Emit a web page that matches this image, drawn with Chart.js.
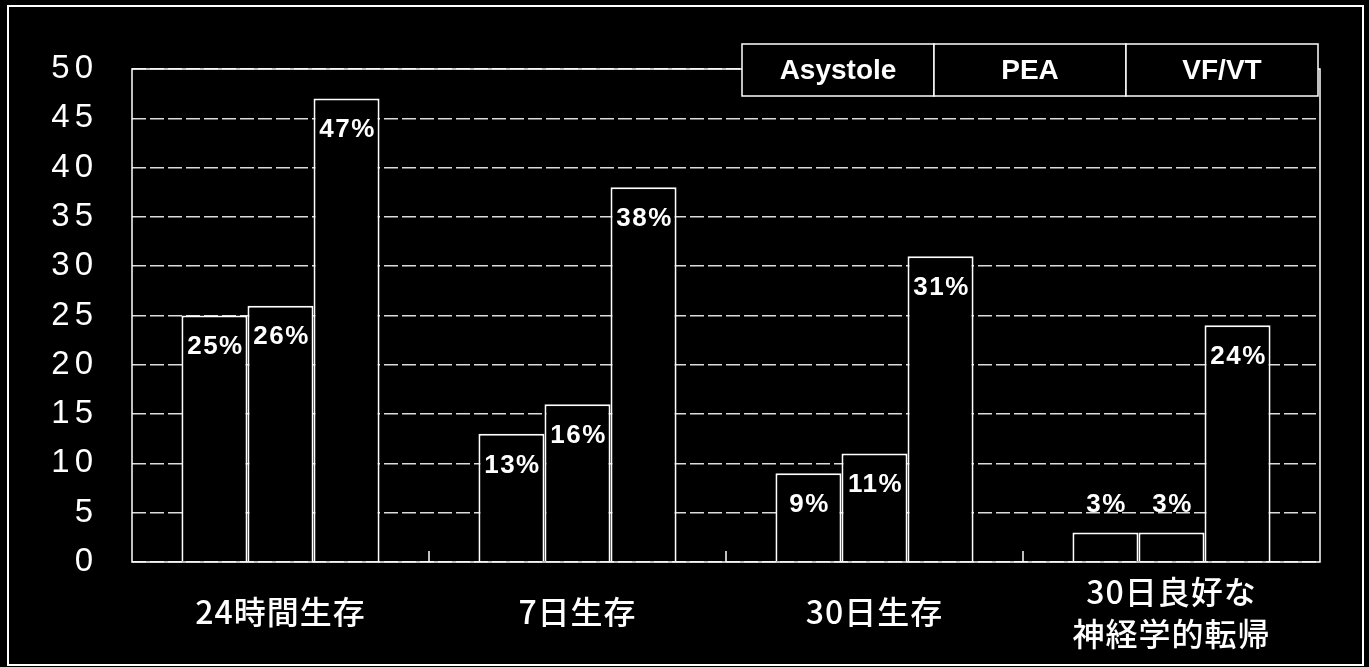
<!DOCTYPE html>
<html>
<head>
<meta charset="utf-8">
<script src="https://cdn.jsdelivr.net/npm/chart.js@4.4.1/dist/chart.umd.min.js"></script>
<style>
    html, body { margin: 0; padding: 0; background: #000; }
    canvas { display: block; }
</style>
</head>
<body>
<canvas id="chart" width="1369" height="667"></canvas>
<script>
const categories = [["24時間生存"], ["7日生存"], ["30日生存"], ["30日良好な", "神経学的転帰"]];
const seriesNames = ["Asystole", "PEA", "VF/VT"];
const asystole = [25, 13, 9, 3];
const pea = [26, 16, 11, 3];
const vfvt = [47, 38, 31, 24];
const yTicks = [0, 5, 10, 15, 20, 25, 30, 35, 40, 45, 50];

const latin = "'Liberation Sans', Arial, sans-serif";
const cjk = "'Noto Sans CJK JP', 'Noto Sans', sans-serif";

// frame, plot border, boundary ticks, labels and boxed legend
const slidePlugin = {
    id: "slide",
    beforeDraw(chart) {
        chart.ctx.letterSpacing = "5px";
    },
    afterDraw(chart) {
        const ctx = chart.ctx;
        const area = chart.chartArea;
        const x = chart.scales.x;
        const y = chart.scales.y;
        ctx.save();
        ctx.letterSpacing = "0px";
        ctx.strokeStyle = "#fff";

        ctx.lineWidth = 2;
        ctx.strokeRect(8, 6, chart.width - 14, chart.height - 8);

        ctx.lineWidth = 1.5;
        ctx.strokeRect(area.left, area.top, area.right - area.left, area.bottom - area.top);

        for (let i = 0; i < categories.length - 1; i++) {
            const bx = (x.getPixelForValue(i) + x.getPixelForValue(i + 1)) / 2;
            ctx.beginPath();
            ctx.moveTo(bx, area.bottom - 11);
            ctx.lineTo(bx, area.bottom);
            ctx.stroke();
        }

        // value labels
        ctx.fillStyle = "#fff";
        ctx.textAlign = "center";
        ctx.textBaseline = "middle";
        ctx.font = "bold 26px " + latin;
        ctx.letterSpacing = "1.5px";
        chart.data.datasets.forEach(function (ds, di) {
            const meta = chart.getDatasetMeta(di);
            meta.data.forEach(function (bar, i) {
                const v = ds.data[i];
                const ly = y.getPixelForValue(Math.max(v - 3.2, 5.8));
                ctx.fillText(v + "%", bar.x + 1, ly);
            });
        });

        // category labels
        ctx.font = "500 32px " + cjk;
        ctx.letterSpacing = "1px";
        categories.forEach(function (lines, i) {
            const cx = x.getPixelForValue(i);
            if (lines.length === 1) {
                ctx.fillText(lines[0], cx, 612);
            } else {
                ctx.fillText(lines[0], cx, 592);
                ctx.fillText(lines[1], cx, 634);
            }
        });

        // legend cells
        const cellW = 192;
        const cellH = 52;
        const top = 44;
        const left = area.right - 2 - cellW * seriesNames.length;
        ctx.font = "bold 28px " + latin;
        ctx.letterSpacing = "0px";
        seriesNames.forEach(function (name, i) {
            const cx = left + i * cellW;
            ctx.fillStyle = "#000";
            ctx.fillRect(cx, top, cellW, cellH);
            ctx.strokeStyle = "#fff";
            ctx.lineWidth = 1.5;
            ctx.strokeRect(cx, top, cellW, cellH);
            ctx.fillStyle = "#fff";
            ctx.fillText(name, cx + cellW / 2, top + cellH / 2 + 1);
        });
        ctx.restore();
    },
};

function barSet(label, data) {
    return {
        label: label,
        data: data,
        backgroundColor: "#000",
        borderColor: "#fff",
        borderWidth: 2,
        categoryPercentage: 0.667,
        barPercentage: 1,
    };
}

new Chart(document.getElementById("chart"), {
    type: "bar",
    data: {
        labels: categories.map(function (c) { return c.join(""); }),
        datasets: [
            barSet(seriesNames[0], asystole),
            barSet(seriesNames[1], pea),
            barSet(seriesNames[2], vfvt),
        ],
    },
    options: {
        responsive: false,
        animation: false,
        devicePixelRatio: 1,
        layout: {
            padding: { top: 69, right: 49, bottom: 105, left: 0 },
        },
        scales: {
            x: {
                ticks: { display: false },
                grid: { display: false, drawTicks: false },
                border: { display: false },
                afterFit: function (s) { s.height = 0; },
            },
            y: {
                min: 0,
                max: 50,
                afterBuildTicks: function (s) {
                    s.ticks = yTicks.map(function (v) { return { value: v }; });
                },
                afterFit: function (s) { s.width = 132; },
                ticks: {
                    color: "#fff",
                    padding: 34,
                    font: { family: latin, size: 33 },
                },
                grid: {
                    color: "#dcdcdc",
                    lineWidth: 1.5,
                    drawTicks: false,
                },
                border: { display: false, dash: [14, 4] },
            },
        },
        plugins: {
            legend: { display: false },
            tooltip: { enabled: false },
        },
    },
    plugins: [slidePlugin],
});
</script>
</body>
</html>
